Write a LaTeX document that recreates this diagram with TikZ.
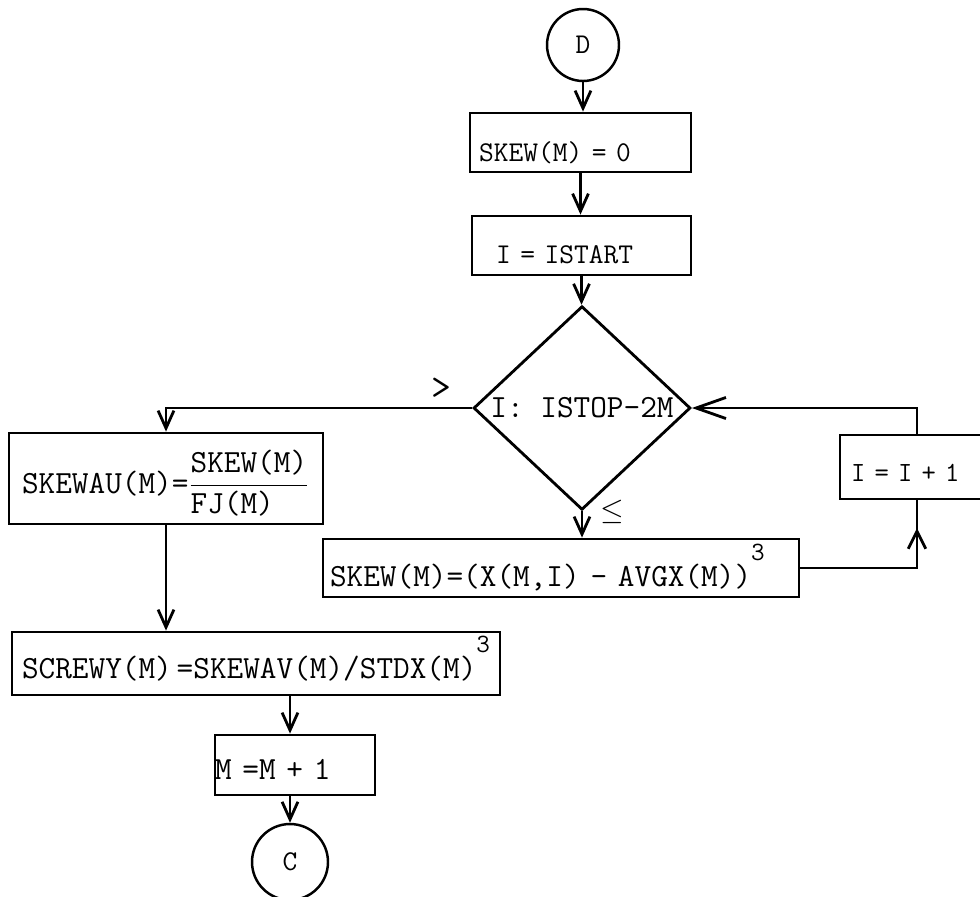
\documentclass[tikz,border=0pt]{standalone}
\usepackage{fontspec}
\usepackage{amsmath}
\usetikzlibrary{arrows.meta,positioning,shapes.geometric,decorations.markings}
\newcommand{\bigtt}{\fontsize{18.4}{21}\selectfont\ttfamily}
\newcommand{\smtt}{\fontsize{16.3}{19}\selectfont\ttfamily}
\newcommand{\cube}{\raisebox{0.8em}[0pt][0pt]{\fontsize{15}{15}\selectfont 3}}
\tikzset{
  box/.style={draw,rectangle,line width=1.6pt,align=left,inner ysep=0pt,text depth=0pt,font=\bigtt},
  conn/.style={draw,circle,line width=1.4pt,inner sep=0pt,font=\smtt},
  dec/.style={draw,diamond,line width=1.6pt,inner sep=0pt,font=\bigtt},
  arr/.style={-{Straight Barb[length=10pt,width=9pt]},line width=1.6pt},
  bigarr/.style={-{Straight Barb[length=17pt,width=12pt]},line width=1.6pt},
  midarr/.style={line width=1.6pt,postaction={decorate},
    decoration={markings,mark=at position #1 with {\arrow{Straight Barb[length=10pt,width=10pt]}}}},
}
\begin{document}
\begin{tikzpicture}[x=0.02cm,y=-0.02cm]
  \useasboundingbox (0,0) rectangle (980,896);
  \clip (0,0) rectangle (980,896);
  \node[conn,minimum size=1.44cm] (d) at (583,45) {D};
  \node[box,minimum width=4.42cm,minimum height=1.18cm,inner xsep=0.18cm,text width=4.06cm,text height=22pt,font=\smtt] (s0) at (580.5,142.5) {SKEW(M) = 0};
  \node[box,minimum width=4.38cm,minimum height=1.18cm,inner xsep=0.48cm,text width=3.42cm,text height=20pt,font=\smtt] (ist) at (581.5,245.5) {I = ISTART};
  \node[dec,minimum width=4.34cm,minimum height=3.24cm] (dia) at (582,408) {I: ISTOP-2M};
  \node[box,minimum width=6.28cm,minimum height=1.82cm,inner xsep=0.26cm,text width=5.76cm,text height=16.5pt] (skau) at (166,478.5)
    {SKEWAU(M)=$\dfrac{\texttt{SKEW(M)}}{\texttt{FJ(M)\phantom{SK}}}$};
  \node[box,minimum width=9.76cm,minimum height=1.26cm,inner xsep=0.2cm,text width=9.36cm,text height=16.5pt] (scr) at (256,663.5)
    {\rlap{SCREWY(M)\hspace{0.15em}=SKEWAV(M)/STDX(M)\cube}};
  \node[box,minimum width=3.2cm,minimum height=1.2cm,inner xsep=0pt,text width=3.2cm,text height=16pt] (mm) at (295,765) {M =M + 1};
  \node[conn,minimum size=1.52cm] (c) at (290,862) {C};
  \node[box,minimum width=9.52cm,minimum height=1.16cm,inner xsep=0.14cm,text width=9.24cm,text height=20.5pt] (sk) at (561,568)
    {SKEW(M)=(X(M,I) - AVGX(M))\cube};
  \node[box,minimum width=3.08cm,minimum height=1.28cm,inner xsep=0.22cm,text width=2.64cm,text height=17pt,font=\fontsize{15.8}{18}\selectfont\ttfamily] (ii) at (917,467) {I = I + 1};
  % branch marks
  \node[font=\fontsize{22}{22}\selectfont\ttfamily] (gt) at (441,389) {>};
  \node[font=\bigtt] (le) at (612,512) {$\leq$};
  % main line
  \foreach \p/\q in {d/s0,s0/ist,ist/dia}{\draw[arr] (\p) -- (\p |- \q.north);}
  \draw[arr] (dia.south) -- (dia.south |- sk.north);
  \draw[arr] (dia.west) -| (skau.north);
  \draw[arr] (skau) -- (skau |- scr.north);
  \draw[arr] (scr.south -| c) -- (mm.north -| c);
  \draw[arr] (mm.south -| c) -- (c);
  % loop back
  \draw[midarr=0.85] (sk.east) -| (ii.south);
  \draw[bigarr] (ii.north) |- (dia.east);
\end{tikzpicture}
\end{document}
